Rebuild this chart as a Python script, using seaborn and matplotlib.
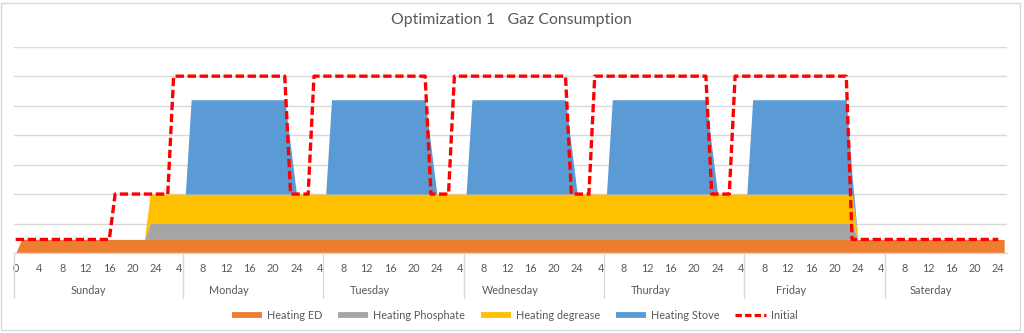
import numpy as np
import pandas as pd
import matplotlib
matplotlib.use("Agg")
import matplotlib.pyplot as plt
from matplotlib.lines import Line2D
from matplotlib.patches import Rectangle
import seaborn as sns

# ---------------- data (hourly, category index 0..169) ----------------
heating_ed = [
    0, 23, 23, 23, 23, 23, 23, 23, 23, 23,
    23, 23, 23, 23, 23, 23, 23, 23, 23, 23,
    23, 23, 23, 23, 23, 23, 23, 23, 23, 23,
    23, 23, 23, 23, 23, 23, 23, 23, 23, 23,
    23, 23, 23, 23, 23, 23, 23, 23, 23, 23,
    23, 23, 23, 23, 23, 23, 23, 23, 23, 23,
    23, 23, 23, 23, 23, 23, 23, 23, 23, 23,
    23, 23, 23, 23, 23, 23, 23, 23, 23, 23,
    23, 23, 23, 23, 23, 23, 23, 23, 23, 23,
    23, 23, 23, 23, 23, 23, 23, 23, 23, 23,
    23, 23, 23, 23, 23, 23, 23, 23, 23, 23,
    23, 23, 23, 23, 23, 23, 23, 23, 23, 23,
    23, 23, 23, 23, 23, 23, 23, 23, 23, 23,
    23, 23, 23, 23, 23, 23, 23, 23, 23, 23,
    23, 23, 23, 23, 23, 23, 23, 23, 23, 23,
    23, 23, 23, 23, 23, 23, 23, 23, 23, 23,
    23, 23, 23, 23, 23, 23, 23, 23, 23, 23,
]
heating_phosphate = [
    0, 0, 0, 0, 0, 0, 0, 0, 0, 0,
    0, 0, 0, 0, 0, 0, 0, 0, 0, 0,
    0, 0, 0, 27, 27, 27, 27, 27, 27, 27,
    27, 27, 27, 27, 27, 27, 27, 27, 27, 27,
    27, 27, 27, 27, 27, 27, 27, 27, 27, 27,
    27, 27, 27, 27, 27, 27, 27, 27, 27, 27,
    27, 27, 27, 27, 27, 27, 27, 27, 27, 27,
    27, 27, 27, 27, 27, 27, 27, 27, 27, 27,
    27, 27, 27, 27, 27, 27, 27, 27, 27, 27,
    27, 27, 27, 27, 27, 27, 27, 27, 27, 27,
    27, 27, 27, 27, 27, 27, 27, 27, 27, 27,
    27, 27, 27, 27, 27, 27, 27, 27, 27, 27,
    27, 27, 27, 27, 27, 27, 27, 27, 27, 27,
    27, 27, 27, 27, 27, 27, 27, 27, 27, 27,
    27, 27, 27, 27, 0, 0, 0, 0, 0, 0,
    0, 0, 0, 0, 0, 0, 0, 0, 0, 0,
    0, 0, 0, 0, 0, 0, 0, 0, 0, 0,
]
heating_degrease = [
    0, 0, 0, 0, 0, 0, 0, 0, 0, 0,
    0, 0, 0, 0, 0, 0, 0, 0, 0, 0,
    0, 0, 0, 50, 50, 50, 50, 50, 50, 50,
    50, 50, 50, 50, 50, 50, 50, 50, 50, 50,
    50, 50, 50, 50, 50, 50, 50, 50, 50, 50,
    50, 50, 50, 50, 50, 50, 50, 50, 50, 50,
    50, 50, 50, 50, 50, 50, 50, 50, 50, 50,
    50, 50, 50, 50, 50, 50, 50, 50, 50, 50,
    50, 50, 50, 50, 50, 50, 50, 50, 50, 50,
    50, 50, 50, 50, 50, 50, 50, 50, 50, 50,
    50, 50, 50, 50, 50, 50, 50, 50, 50, 50,
    50, 50, 50, 50, 50, 50, 50, 50, 50, 50,
    50, 50, 50, 50, 50, 50, 50, 50, 50, 50,
    50, 50, 50, 50, 50, 50, 50, 50, 50, 50,
    50, 50, 50, 50, 0, 0, 0, 0, 0, 0,
    0, 0, 0, 0, 0, 0, 0, 0, 0, 0,
    0, 0, 0, 0, 0, 0, 0, 0, 0, 0,
]
heating_stove = [
    0, 0, 0, 0, 0, 0, 0, 0, 0, 0,
    0, 0, 0, 0, 0, 0, 0, 0, 0, 0,
    0, 0, 0, 0, 0, 0, 0, 0, 0, 0,
    160, 160, 160, 160, 160, 160, 160, 160, 160, 160,
    160, 160, 160, 160, 160, 160, 160, 80, 0, 0,
    0, 0, 0, 0, 160, 160, 160, 160, 160, 160,
    160, 160, 160, 160, 160, 160, 160, 160, 160, 160,
    160, 80, 0, 0, 0, 0, 0, 0, 160, 160,
    160, 160, 160, 160, 160, 160, 160, 160, 160, 160,
    160, 160, 160, 160, 160, 80, 0, 0, 0, 0,
    0, 0, 160, 160, 160, 160, 160, 160, 160, 160,
    160, 160, 160, 160, 160, 160, 160, 160, 160, 80,
    0, 0, 0, 0, 0, 0, 160, 160, 160, 160,
    160, 160, 160, 160, 160, 160, 160, 160, 160, 160,
    160, 160, 160, 30, 0, 0, 0, 0, 0, 0,
    0, 0, 0, 0, 0, 0, 0, 0, 0, 0,
    0, 0, 0, 0, 0, 0, 0, 0, 0, 0,
]
initial = [
    23, 23, 23, 23, 23, 23, 23, 23, 23, 23,
    23, 23, 23, 23, 23, 23, 23, 100, 100, 100,
    100, 100, 100, 100, 100, 100, 100, 300, 300, 300,
    300, 300, 300, 300, 300, 300, 300, 300, 300, 300,
    300, 300, 300, 300, 300, 300, 300, 100, 100, 100,
    100, 300, 300, 300, 300, 300, 300, 300, 300, 300,
    300, 300, 300, 300, 300, 300, 300, 300, 300, 300,
    300, 100, 100, 100, 100, 300, 300, 300, 300, 300,
    300, 300, 300, 300, 300, 300, 300, 300, 300, 300,
    300, 300, 300, 300, 300, 100, 100, 100, 100, 300,
    300, 300, 300, 300, 300, 300, 300, 300, 300, 300,
    300, 300, 300, 300, 300, 300, 300, 300, 300, 100,
    100, 100, 100, 300, 300, 300, 300, 300, 300, 300,
    300, 300, 300, 300, 300, 300, 300, 300, 300, 300,
    300, 300, 300, 23, 23, 23, 23, 23, 23, 23,
    23, 23, 23, 23, 23, 23, 23, 23, 23, 23,
    23, 23, 23, 23, 23, 23, 23, 23, 23, None,
]

hour_labels = ["0",
               "4", "8", "12", "16", "20", "24",
               "4", "8", "12", "16", "20", "24",
               "4", "8", "12", "16", "20", "24",
               "4", "8", "12", "16", "20", "24",
               "4", "8", "12", "16", "20", "24",
               "4", "8", "12", "16", "20", "24",
               "4", "8", "12", "16", "20", "24"]
days = ["Sunday", "Monday", "Tuesday", "Wednesday", "Thurday", "Friday", "Saterday"]
series_names = ["Heating ED", "Heating Phosphate", "Heating degrease", "Heating Stove"]
title = "Optimization 1   Gaz Consumption"

# ---------------- style ----------------
sns.set_theme(style="white")
plt.rcParams["font.family"] = ["Lato", "DejaVu Sans"]
TXT = "#595959"
GRID = "#d9d9d9"
colors = ["#ED7D31", "#A5A5A5", "#FFC000", "#5B9BD5"]
RED = "#FF0000"

n = len(heating_ed)
df = pd.DataFrame({
    "hour": np.arange(n),
    "Heating ED": heating_ed,
    "Heating Phosphate": heating_phosphate,
    "Heating degrease": heating_degrease,
    "Heating Stove": heating_stove,
    "Initial": pd.to_numeric(pd.Series(initial), errors="coerce"),
})

W, H = 1024, 333
fig = plt.figure(figsize=(W / 100, H / 100), dpi=100)
fig.patch.set_facecolor("white")

x_left, x_right, y_top, y_bot = 14.3, 1006.7, 46.7, 253.0
ax = fig.add_axes([x_left / W, (H - y_bot) / H, (x_right - x_left) / W, (y_bot - y_top) / H])

# scale: pixel = 15.7 + 5.849 * hour
px_per_h = 5.849
x0_px = 15.7
xmin = (x_left - x0_px) / px_per_h
xmax = (x_right - x0_px) / px_per_h

ax.stackplot(df["hour"], [df[c] for c in series_names], colors=colors, linewidth=0, zorder=2)
sns.lineplot(data=df, x="hour", y="Initial", ax=ax, color=RED, linewidth=2.4,
             linestyle=(0, (2.5, 1.1)), zorder=3, legend=False)

ax.set_xlim(xmin, xmax)
ax.set_ylim(0, 350)
ax.set_yticks(np.arange(0, 351, 50))
ax.set_yticklabels([])
ax.yaxis.grid(True, color=GRID, linewidth=1.0)
ax.xaxis.grid(False)
ax.set_axisbelow(True)
for s in ["left", "right", "top"]:
    ax.spines[s].set_visible(False)
ax.spines["bottom"].set_color(GRID)
ax.spines["bottom"].set_linewidth(1.0)
ax.set_xlabel("")
ax.set_ylabel("")

tick_pos = np.arange(0, 169, 4)
ax.set_xticks(tick_pos)
ax.set_xticklabels(hour_labels, fontsize=7.8, color=TXT)
ax.tick_params(axis="x", length=0, pad=7)
ax.tick_params(axis="y", length=0)

# day group labels and dividers
trans = ax.get_xaxis_transform()
plot_h = y_bot - y_top
day_y = -(290.7 - y_bot) / plot_h
div_y = -(297.5 - y_bot) / plot_h
for k, d in enumerate(days):
    ax.text(12.5 + 24 * k, day_y, d, transform=trans, ha="center", va="center",
            fontsize=7.8, color=TXT)
div_x = [xmin] + [28.6 + 24 * k for k in range(6)]
for xv in div_x:
    ax.plot([xv, xv], [0, div_y], transform=trans, color=GRID, linewidth=1.0, clip_on=False)

# title
fig.text(511.5 / W, 1 - 20 / H, title, ha="center", va="center", fontsize=11.4, color=TXT)

# legend
handles = [Line2D([0], [0], color=c, linewidth=4.2, solid_capstyle="butt") for c in colors]
handles.append(Line2D([0], [0], color=RED, linewidth=2.3, linestyle=(0, (2.0, 1.0))))
fig.legend(handles, series_names + ["Initial"], ncol=5, loc="center",
           bbox_to_anchor=(514.5 / W, 1 - 315.5 / H), frameon=False, fontsize=7.8,
           labelcolor=TXT, handlelength=2.8, handletextpad=0.45, columnspacing=1.45)

# chart border
fig.patches.append(Rectangle((1 / W, 3 / H), 1019 / W, 327 / H, transform=fig.transFigure,
                             fill=False, edgecolor=GRID, linewidth=1.0))

fig.savefig("out.png", dpi=100)
